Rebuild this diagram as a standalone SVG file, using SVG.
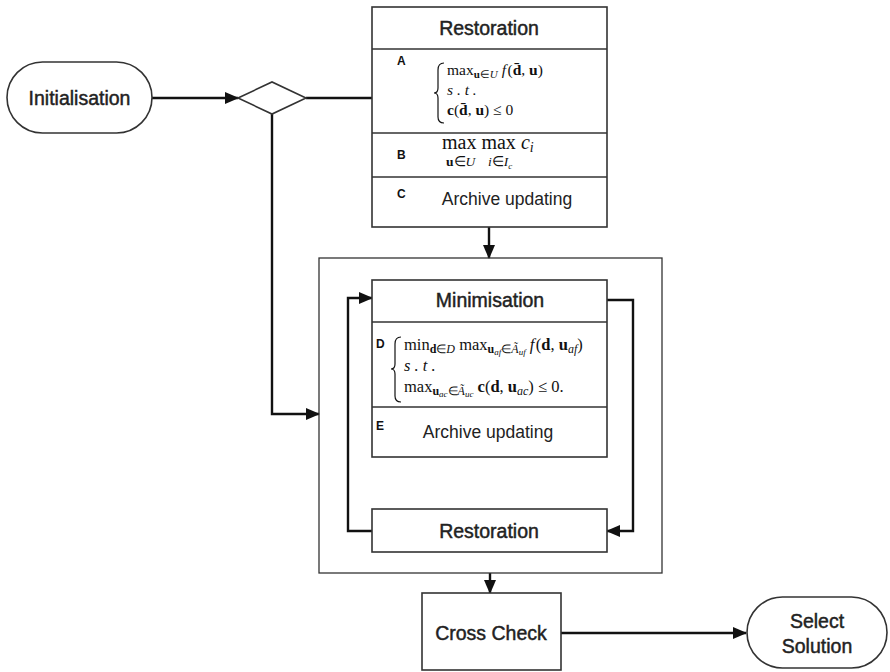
<svg xmlns="http://www.w3.org/2000/svg" width="890" height="672" viewBox="0 0 890 672">
<defs>
<marker id="arr" markerUnits="userSpaceOnUse" markerWidth="14" markerHeight="12" refX="13" refY="6" orient="auto">
<path d="M0,0 L14,6 L0,12 Z" fill="#111"/>
</marker>
<style>
.box{fill:#fff;stroke:#333;stroke-width:1.6}
.outer{fill:none;stroke:#333;stroke-width:1.3}
.conn{fill:none;stroke:#111;stroke-width:2.4}
.ttl{font-family:"Liberation Sans",Arial,sans-serif;font-size:19.5px;fill:#222;stroke:#222;stroke-width:0.45;text-anchor:middle}
.txt{font-family:"Liberation Sans",Arial,sans-serif;font-size:17.5px;fill:#222;text-anchor:middle}
.lbl{font-family:"Liberation Sans",Arial,sans-serif;font-size:12px;font-weight:bold;fill:#111}
.m{font-family:"Liberation Serif","Times New Roman",serif;font-size:15.5px;fill:#111}
.md{font-family:"Liberation Serif","Times New Roman",serif;font-size:16.5px;fill:#111}
.b{font-weight:bold}
.i{font-style:italic}
.s{font-size:11px}
.s2{font-size:12px}
.ss2{font-size:9px}
.brace{fill:none;stroke:#111;stroke-width:1.2}
</style>
</defs>
<rect width="890" height="672" fill="#fff"/>

<g id="connectors">
<path class="conn" d="M152,98 L238,98" marker-end="url(#arr)"/>
<path class="conn" d="M306,98 L372,98"/>
<path class="conn" d="M272,114 L272,414 L319,414" marker-end="url(#arr)"/>
<path class="conn" d="M489,227 L489,258" marker-end="url(#arr)"/>
<path class="conn" d="M372,531 L348,531 L348,298 L372,298" marker-end="url(#arr)"/>
<path class="conn" d="M607,300 L633,300 L633,531 L607,531" marker-end="url(#arr)"/>
<path class="conn" d="M490,573 L490,593" marker-end="url(#arr)"/>
<path class="conn" d="M561,633 L746,633" marker-end="url(#arr)"/>
</g>

<g id="initialisation">
<rect class="box" x="7" y="62" width="145" height="71" rx="35.5"/>
<text class="ttl" x="79.5" y="105">Initialisation</text>
</g>

<g id="decision">
<polygon class="box" points="238,98 272,82 306,98 272,114"/>
</g>

<g id="restoration-top">
<rect class="box" x="372" y="7" width="235" height="220"/>
<line class="box" x1="372" y1="49" x2="607" y2="49"/>
<line class="box" x1="372" y1="133" x2="607" y2="133"/>
<line class="box" x1="372" y1="177" x2="607" y2="177"/>
<text class="ttl" x="489" y="35">Restoration</text>
<text class="lbl" x="397" y="65">A</text>
<path class="brace" d="M444,63 Q438,63 438,70 L438,88 Q438,93 434,93 Q438,93 438,98 L438,117 Q438,123 444,123"/>
<text class="m" x="447" y="75">max<tspan class="s b" dy="3">u</tspan><tspan class="s">∈</tspan><tspan class="s i">U</tspan><tspan dy="-3"> </tspan><tspan class="i">f</tspan><tspan dx="1.5">(</tspan><tspan class="b">d̄</tspan>, <tspan class="b">u</tspan>)</text>
<text class="m i" x="447" y="95">s . t .</text>
<text class="m" x="447" y="115"><tspan class="b">c</tspan>(<tspan class="b">d̄</tspan>, <tspan class="b">u</tspan>) ≤ 0</text>
<text class="lbl" x="397" y="159">B</text>
<text class="m" x="442" y="149" style="font-size:20px">max max <tspan class="i">c</tspan><tspan class="i" style="font-size:14px" dy="3">i</tspan></text>
<text class="m" x="446" y="166" style="font-size:13.5px"><tspan class="b">u</tspan>∈<tspan class="i">U</tspan></text>
<text class="m" x="488" y="166" style="font-size:13.5px"><tspan class="i">i</tspan>∈<tspan class="i">I</tspan><tspan class="i" style="font-size:9px" dy="3">c</tspan></text>
<text class="lbl" x="397" y="198">C</text>
<text class="txt" x="507" y="205">Archive updating</text>
</g>

<g id="outer-loop">
<rect class="outer" x="319" y="258" width="343" height="315"/>
</g>

<g id="minimisation">
<rect class="box" x="372" y="280" width="235" height="177"/>
<line class="box" x1="372" y1="322" x2="607" y2="322"/>
<line class="box" x1="372" y1="407" x2="607" y2="407"/>
<text class="ttl" x="490" y="307">Minimisation</text>
<text class="lbl" x="376" y="348">D</text>
<path class="brace" d="M401,337 Q395,337 395,344 L395,364 Q395,369 391,369 Q395,369 395,374 L395,396 Q395,402 401,402"/>
<text class="md" x="404" y="350">min<tspan class="s2 b" dy="3">d</tspan><tspan class="s2">∈</tspan><tspan class="s2 i">D</tspan><tspan dy="-3"> max</tspan><tspan class="s2 b" dy="3">u</tspan><tspan class="ss2 i" dy="2">af</tspan><tspan class="s2" dy="-2">∈</tspan><tspan class="s2 i">Ã</tspan><tspan class="ss2 i" dy="2">uf</tspan><tspan dy="-5"> </tspan><tspan class="i">f</tspan><tspan dx="1.5">(</tspan><tspan class="b">d</tspan>, <tspan class="b">u</tspan><tspan class="s2 i" dy="3">af</tspan><tspan dy="-3">)</tspan></text>
<text class="md i" x="404" y="371">s . t .</text>
<text class="md" x="404" y="392">max<tspan class="s2 b" dy="3">u</tspan><tspan class="ss2 i" dy="2">ac</tspan><tspan class="s2" dy="-2">∈</tspan><tspan class="s2 i">Ã</tspan><tspan class="ss2 i" dy="2">uc</tspan><tspan dy="-5"> </tspan><tspan class="b">c</tspan>(<tspan class="b">d</tspan>, <tspan class="b">u</tspan><tspan class="s2 i" dy="3">ac</tspan><tspan dy="-3">) ≤ 0.</tspan></text>
<text class="lbl" x="376" y="430">E</text>
<text class="txt" x="488" y="438">Archive updating</text>
</g>

<g id="restoration-bottom">
<rect class="box" x="372" y="509" width="235" height="43"/>
<text class="ttl" x="489" y="538">Restoration</text>
</g>

<g id="cross-check">
<rect class="box" x="422" y="593" width="139" height="77"/>
<text class="ttl" x="491" y="640">Cross Check</text>
</g>

<g id="select-solution">
<rect class="box" x="747" y="597" width="140" height="71" rx="35.5"/>
<text class="ttl" x="817" y="628">Select</text>
<text class="ttl" x="817" y="653">Solution</text>
</g>
</svg>
